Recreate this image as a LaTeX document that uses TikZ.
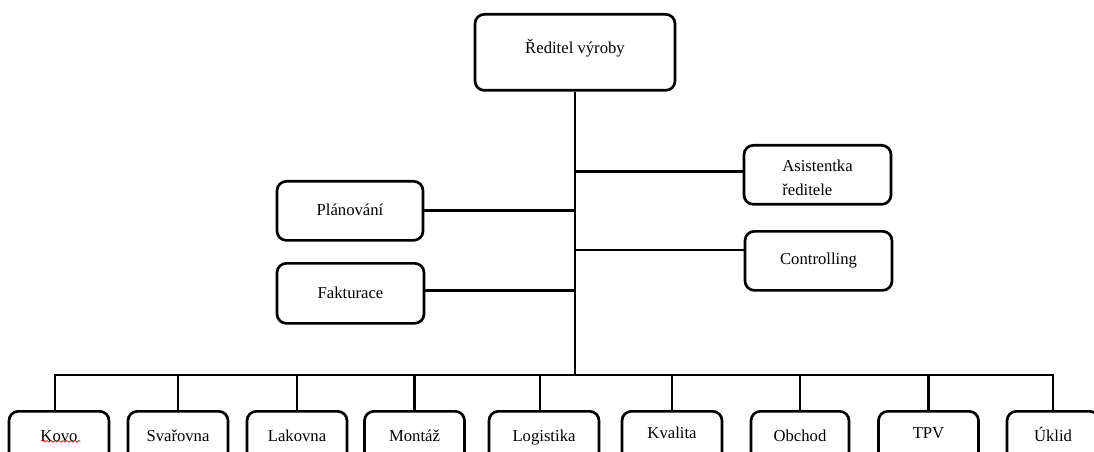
\documentclass[tikz,border=0pt]{standalone}
\usepackage{fontspec}
\setmainfont{Liberation Serif}
\usetikzlibrary{decorations.pathmorphing}

\tikzset{
  unitbox/.style={draw, line width=2pt, rounded corners=7pt, inner sep=0pt,
    anchor=north, font=\fontsize{12.5}{18}\selectfont},
  bottombox/.style={unitbox, minimum width=75pt, text height=22.5pt, text depth=45pt},
  link/.style={line width=2pt},
}

\begin{document}
\begin{tikzpicture}[x=0.75pt, y=-0.75pt]
  \useasboundingbox (0,0) rectangle (1094,452);
  \clip (0,0) rectangle (1094,452);

  % head of production
  \node[unitbox, minimum width=150pt, text height=29.25pt, text depth=27.75pt]
    (dir) at (575,13) {Ředitel výroby};

  % staff units
  \node[unitbox, minimum width=109.5pt, text height=25.5pt, text depth=18.75pt]
    (plan) at (350,180) {Plánování};
  \node[unitbox, minimum width=110.25pt, text height=26.25pt, text depth=18.75pt]
    (fakt) at (350.5,262) {Fakturace};
  \node[unitbox, minimum width=110.25pt, align=left, text height=37.5pt, text depth=6.75pt]
    (asist) at (817.5,144) {Asistentka\\ředitele};
  \node[unitbox, minimum width=110.25pt, text height=24.75pt, text depth=19.5pt]
    (ctrl) at (818.5,230) {Controlling};

  % departments
  \node[bottombox] (kovo) at (59,410) {Kovo};
  \node[bottombox] (svar) at (178,410) {Svařovna};
  \node[bottombox] (lak)  at (297,410) {Lakovna};
  \node[bottombox] (mont) at (414.5,410) {Montáž};
  \node[bottombox, minimum width=82.5pt] (log) at (544,410) {Logistika};
  \node[bottombox, text height=20.25pt, text depth=47.25pt] (kval) at (672,410) {Kvalita};
  \node[bottombox, minimum width=73.5pt] (obch) at (800,410) {Obchod};
  \node[bottombox, text height=20.25pt, text depth=47.25pt] (tpv) at (928.5,410) {TPV};
  \node[bottombox, minimum width=69pt] (uklid) at (1053,410) {Úklid};

  % spell-check underline
  \draw[red, line width=0.5pt, decorate,
        decoration={snake, segment length=3pt, amplitude=0.6pt}]
    ([xshift=-13pt, yshift=-23.5pt]kovo.north) -- ([xshift=16pt, yshift=-23.5pt]kovo.north);

  % trunk and bus
  \coordinate (bus) at (573,375);
  \draw[link] (dir.south) -- (dir.south |- bus);
  \draw[link] ([xshift=-3pt]kovo.north) |- (uklid.north |- bus) -- (uklid.north);
  \foreach \n in {svar,lak,mont,kval,obch,tpv}
    \draw[link] (\n.north) -- (\n.north |- bus);
  \draw[link] ([xshift=-3pt]log.north) -- ([xshift=-3pt]log.north |- bus);

  % side branches
  \draw[link] (plan.east) -- (plan.east -| dir.south);
  \draw[link] ([yshift=2pt]fakt.east) -- ([yshift=2pt]fakt.east -| dir.south);
  \draw[link] ([yshift=2.5pt]asist.west) -- ([yshift=2.5pt]asist.west -| dir.south);
  \draw[link] ([yshift=8.25pt]ctrl.west) -- ([yshift=8.25pt]ctrl.west -| dir.south);
\end{tikzpicture}
\end{document}
